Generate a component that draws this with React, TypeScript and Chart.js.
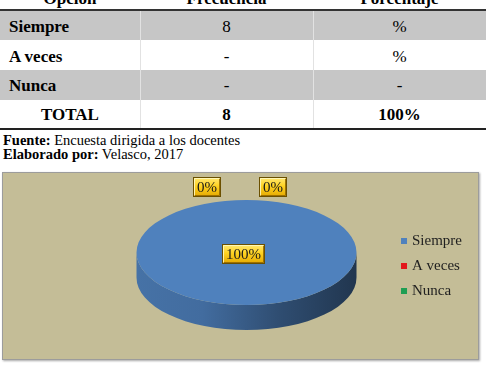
import React, { useEffect, useRef } from 'react';
import { Chart, registerables } from 'chart.js';

Chart.register(...registerables);

// ---------- data ----------
const HEADERS = ['Opción', 'Frecuencia', 'Porcentaje'];
const CATEGORIES = ['Siempre', 'A veces', 'Nunca'];
const FREQ_TEXT = ['8', '-', '-'];
const PCT_TEXT = ['%', '%', '-'];
const TOTAL_ROW = ['TOTAL', '8', '100%'];
const VALUES = [8, 0, 0];
const COLORS = ['#4F81BD', '#E3161B', '#1E9E53'];
const SOURCE = ['Fuente:', ' Encuesta dirigida a los docentes'];
const AUTHOR = ['Elaborado por:', ' Velasco, 2017'];

// ---------- style ----------
const SERIF = '"Liberation Serif", "Times New Roman", serif';
const ROW_TOPS = [11, 40, 70, 100];
const ROW_HEIGHTS = [29, 30, 30, 28];
const ROW_BASELINES = [32, 62, 91, 120.5];
const ROW_BG = ['#C6C6C6', '#FFFFFF', '#C6C6C6', '#FFFFFF'];
const COL_EDGES = [0, 140, 313, 486];

function shade(hex: string, f: number) {
  const n = parseInt(hex.slice(1), 16);
  const r = Math.round(((n >> 16) & 255) * f);
  const g = Math.round(((n >> 8) & 255) * f);
  const b = Math.round((n & 255) * f);
  return `rgb(${r},${g},${b})`;
}

function lowerSegments(s: number, e: number): [number, number][] {
  const out: [number, number][] = [];
  for (let k = -2; k <= 2; k++) {
    const lo = Math.max(s, 2 * Math.PI * k);
    const hi = Math.min(e, Math.PI + 2 * Math.PI * k);
    if (hi > lo) out.push([lo, hi]);
  }
  return out;
}

function drawLabelBox(ctx: CanvasRenderingContext2D, text: string, cx: number, cy: number) {
  ctx.save();
  ctx.font = `15px ${SERIF}`;
  const tw = ctx.measureText(text).width;
  const w = Math.round(tw + 8);
  const h = 20;
  const x0 = Math.round(cx - w / 2);
  const y0 = Math.round(cy - h / 2);
  const g = ctx.createLinearGradient(0, y0, 0, y0 + h);
  g.addColorStop(0, '#FFE978');
  g.addColorStop(0.45, '#FFD322');
  g.addColorStop(1, '#E3A700');
  ctx.fillStyle = g;
  ctx.fillRect(x0, y0, w, h);
  ctx.lineWidth = 1;
  ctx.strokeStyle = 'rgba(150,105,0,0.9)';
  ctx.beginPath();
  ctx.moveTo(x0 + 1.5, y0 + h - 1.5);
  ctx.lineTo(x0 + w - 1.5, y0 + h - 1.5);
  ctx.lineTo(x0 + w - 1.5, y0 + 1.5);
  ctx.stroke();
  ctx.strokeStyle = 'rgba(255,248,190,0.9)';
  ctx.beginPath();
  ctx.moveTo(x0 + 1.5, y0 + h - 1.5);
  ctx.lineTo(x0 + 1.5, y0 + 1.5);
  ctx.lineTo(x0 + w - 1.5, y0 + 1.5);
  ctx.stroke();
  ctx.strokeStyle = '#6B5000';
  ctx.strokeRect(x0 + 0.5, y0 + 0.5, w - 1, h - 1);
  ctx.fillStyle = '#1a1a1a';
  ctx.textAlign = 'center';
  ctx.textBaseline = 'alphabetic';
  ctx.fillText(text, x0 + w / 2, y0 + h / 2 + 5);
  ctx.restore();
}

const pie3d = {
  id: 'pie3d',
  beforeDatasetsDraw(chart: any, _args: any, opts: any) {
    const meta = chart.getDatasetMeta(0);
    const arcs = meta.data;
    if (!arcs.length) return;
    const ctx: CanvasRenderingContext2D = chart.ctx;
    const cx = arcs[0].x;
    const cy = arcs[0].y;
    const R = arcs[0].outerRadius;
    const cyS = cy + opts.shiftY;
    const rx = R;
    const ry = R * opts.tilt;
    const d = opts.depth;
    arcs.forEach((arc: any, i: number) => {
      if (!arc.circumference) return;
      const base = COLORS[i % COLORS.length];
      lowerSegments(arc.startAngle, arc.endAngle).forEach(([a, b]) => {
        const g = ctx.createLinearGradient(cx - rx, 0, cx + rx, 0);
        g.addColorStop(0, shade(base, 0.88));
        g.addColorStop(0.3, shade(base, 0.84));
        g.addColorStop(0.65, shade(base, 0.6));
        g.addColorStop(1, shade(base, 0.42));
        ctx.save();
        ctx.beginPath();
        ctx.ellipse(cx, cyS, rx, ry, 0, a, b, false);
        ctx.lineTo(cx + rx * Math.cos(b), cyS + d + ry * Math.sin(b));
        ctx.ellipse(cx, cyS + d, rx, ry, 0, b, a, true);
        ctx.closePath();
        ctx.fillStyle = g;
        ctx.fill();
        ctx.restore();
      });
    });
    ctx.save();
    ctx.translate(cx, cyS);
    ctx.scale(1, opts.tilt);
    ctx.translate(-cx, -cy);
  },
  afterDatasetsDraw(chart: any, _args: any, opts: any) {
    const ctx: CanvasRenderingContext2D = chart.ctx;
    ctx.restore();
    const meta = chart.getDatasetMeta(0);
    const arcs = meta.data;
    if (!arcs.length) return;
    const data: number[] = chart.data.datasets[0].data;
    const total = data.reduce((s, v) => s + v, 0) || 1;
    const cx = arcs[0].x;
    const cyS = arcs[0].y + opts.shiftY;
    const R = arcs[0].outerRadius;
    arcs.forEach((arc: any, i: number) => {
      const pct = Math.round((data[i] / total) * 100) + '%';
      let px: number;
      let py: number;
      if (arc.circumference >= 2 * Math.PI - 1e-6) {
        px = cx;
        py = cyS;
      } else {
        const a = arc.circumference ? (arc.startAngle + arc.endAngle) / 2 : arc.startAngle;
        px = cx + R * Math.cos(a);
        py = cyS + R * opts.tilt * Math.sin(a);
      }
      const off = opts.labelOffsets[i] || [0, 0];
      drawLabelBox(ctx, pct, px + off[0], py + off[1]);
    });
  },
};

function Txt(props: {
  x: number;
  baseline: number;
  size: number;
  bold?: boolean;
  center?: boolean;
  children: React.ReactNode;
}) {
  const { x, baseline, size, bold, center, children } = props;
  const style: React.CSSProperties = {
    position: 'absolute',
    top: baseline - 0.8375 * size,
    fontSize: size,
    lineHeight: `${size}px`,
    fontWeight: bold ? 'bold' : 'normal',
    whiteSpace: 'nowrap',
  };
  if (center) {
    style.left = x - 150;
    style.width = 300;
    style.textAlign = 'center';
  } else {
    style.left = x;
  }
  return <div style={style}>{children}</div>;
}

function PieChart() {
  const ref = useRef<HTMLCanvasElement>(null);
  useEffect(() => {
    if (!ref.current) return;
    const chart = new Chart(ref.current, {
      type: 'pie',
      data: {
        labels: CATEGORIES,
        datasets: [
          {
            data: VALUES,
            backgroundColor: COLORS,
            borderWidth: 0,
            radius: 110,
            clip: false,
          } as any,
        ],
      },
      options: {
        responsive: false,
        animation: false,
        devicePixelRatio: 1,
        events: [],
        layout: { padding: { left: 96.5, right: 6, top: 0, bottom: 0 } },
        plugins: {
          legend: {
            position: 'right',
            labels: {
              usePointStyle: true,
              pointStyle: 'rect',
              boxWidth: 1,
              boxHeight: 6,
              padding: 10,
              color: '#1f1f1f',
              font: { family: 'Liberation Serif', size: 15 },
            },
          },
          tooltip: { enabled: false },
          pie3d: {
            tilt: 0.477,
            shiftY: -13.5,
            depth: 25,
            labelOffsets: [
              [-3, 1],
              [-40, -13],
              [26, -13],
            ],
          },
        } as any,
      },
      plugins: [pie3d as any],
    });
    return () => chart.destroy();
  }, []);
  return <canvas ref={ref} width={475} height={186} style={{ display: 'block' }} />;
}

export default function App() {
  return (
    <div
      style={{
        position: 'fixed',
        left: 0,
        top: 0,
        width: 486,
        height: 366,
        background: '#fff',
        overflow: 'hidden',
        fontFamily: SERIF,
        color: '#000',
      }}
    >
      {ROW_TOPS.map((t, i) => (
        <div
          key={'bg' + i}
          style={{ position: 'absolute', left: 0, top: t, width: 486, height: ROW_HEIGHTS[i], background: ROW_BG[i] }}
        />
      ))}
      {[COL_EDGES[1], COL_EDGES[2]].map((x, i) => (
        <div key={'cd' + i} style={{ position: 'absolute', left: x, top: 11, width: 1, height: 117, background: '#E2E2E2' }} />
      ))}
      <div style={{ position: 'absolute', left: 0, top: 9, width: 486, height: 2, background: '#333' }} />
      <div style={{ position: 'absolute', left: 0, top: 128, width: 486, height: 2, background: '#222' }} />

      {HEADERS.map((h, i) => (
        <Txt key={'h' + i} x={(COL_EDGES[i] + COL_EDGES[i + 1]) / 2} baseline={4.5} size={17} bold center>
          {h}
        </Txt>
      ))}

      {CATEGORIES.map((c, i) => (
        <React.Fragment key={'r' + i}>
          <Txt x={9} baseline={ROW_BASELINES[i]} size={17} bold>
            {c}
          </Txt>
          <Txt x={(COL_EDGES[1] + COL_EDGES[2]) / 2} baseline={ROW_BASELINES[i]} size={17} center>
            {FREQ_TEXT[i]}
          </Txt>
          <Txt x={(COL_EDGES[2] + COL_EDGES[3]) / 2} baseline={ROW_BASELINES[i]} size={17} center>
            {PCT_TEXT[i]}
          </Txt>
        </React.Fragment>
      ))}
      {TOTAL_ROW.map((t, i) => (
        <Txt key={'t' + i} x={(COL_EDGES[i] + COL_EDGES[i + 1]) / 2} baseline={ROW_BASELINES[3]} size={17} bold center>
          {t}
        </Txt>
      ))}

      <Txt x={3} baseline={145} size={14.5}>
        <b>{SOURCE[0]}</b>
        {SOURCE[1]}
      </Txt>
      <Txt x={3} baseline={159} size={14.5}>
        <b>{AUTHOR[0]}</b>
        {AUTHOR[1]}
      </Txt>

      <div
        style={{
          position: 'absolute',
          left: 2,
          top: 172,
          width: 477,
          height: 188,
          boxSizing: 'border-box',
          border: '1px solid #9C9C9C',
          background: '#C4BD97',
          boxShadow: '1px 1px 2px rgba(0,0,0,0.35)',
        }}
      >
        <PieChart />
      </div>
    </div>
  );
}
